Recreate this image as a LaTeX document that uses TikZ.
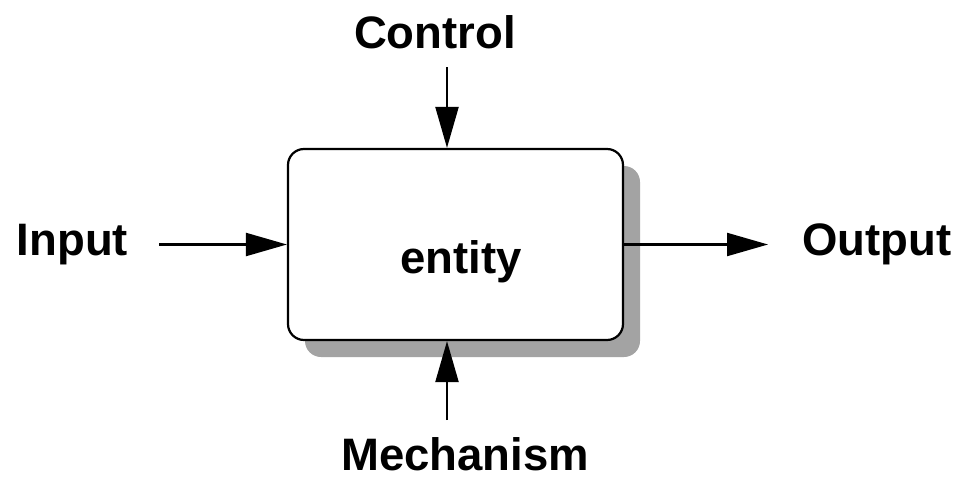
\documentclass[tikz,border=0pt]{standalone}
\usepackage{fontspec}
\setmainfont{Liberation Sans}
\usetikzlibrary{arrows.meta,shadows}
\begin{document}
\begin{tikzpicture}[x=1pt,y=-1pt,
  lbl/.style={anchor=base,inner sep=0pt,font=\fontsize{45.5}{54}\selectfont\bfseries},
  entitybox/.style={draw=black,line width=2.2pt,fill=white,rounded corners=16pt,
    minimum width=335pt,minimum height=191pt,inner sep=0pt,
    drop shadow={shadow xshift=17pt,shadow yshift=-17pt,fill=black!36,opacity=1}},
  conn/.style={line width=2.2pt,-{Triangle[length=41pt,width=23pt]}}]
\useasboundingbox (0,0) rectangle (959,482);
\node[lbl] (mech) at (465,470) {Mechanism};
\node[entitybox] (box) at (455.5,244.5) {};
\node[lbl] (ent) at (461,273) {entity};
\node[lbl] (ctl) at (435,48) {Control};
\node[lbl] (inp) at (72.5,255) {Input};
\node[lbl] (outp) at (877,255) {Output};
\coordinate (inS) at (159,244.5);
\coordinate (ctS) at (447,67);
\coordinate (mS) at (447,420);
\coordinate (outE) at (768,244.5);
\draw[conn] (inS) -- (box.west);
\draw[conn] (ctS) -- (ctS |- box.north);
\draw[conn] (mS) -- (mS |- box.south);
\draw[conn] (box.east) -- (outE);
\end{tikzpicture}
\end{document}
